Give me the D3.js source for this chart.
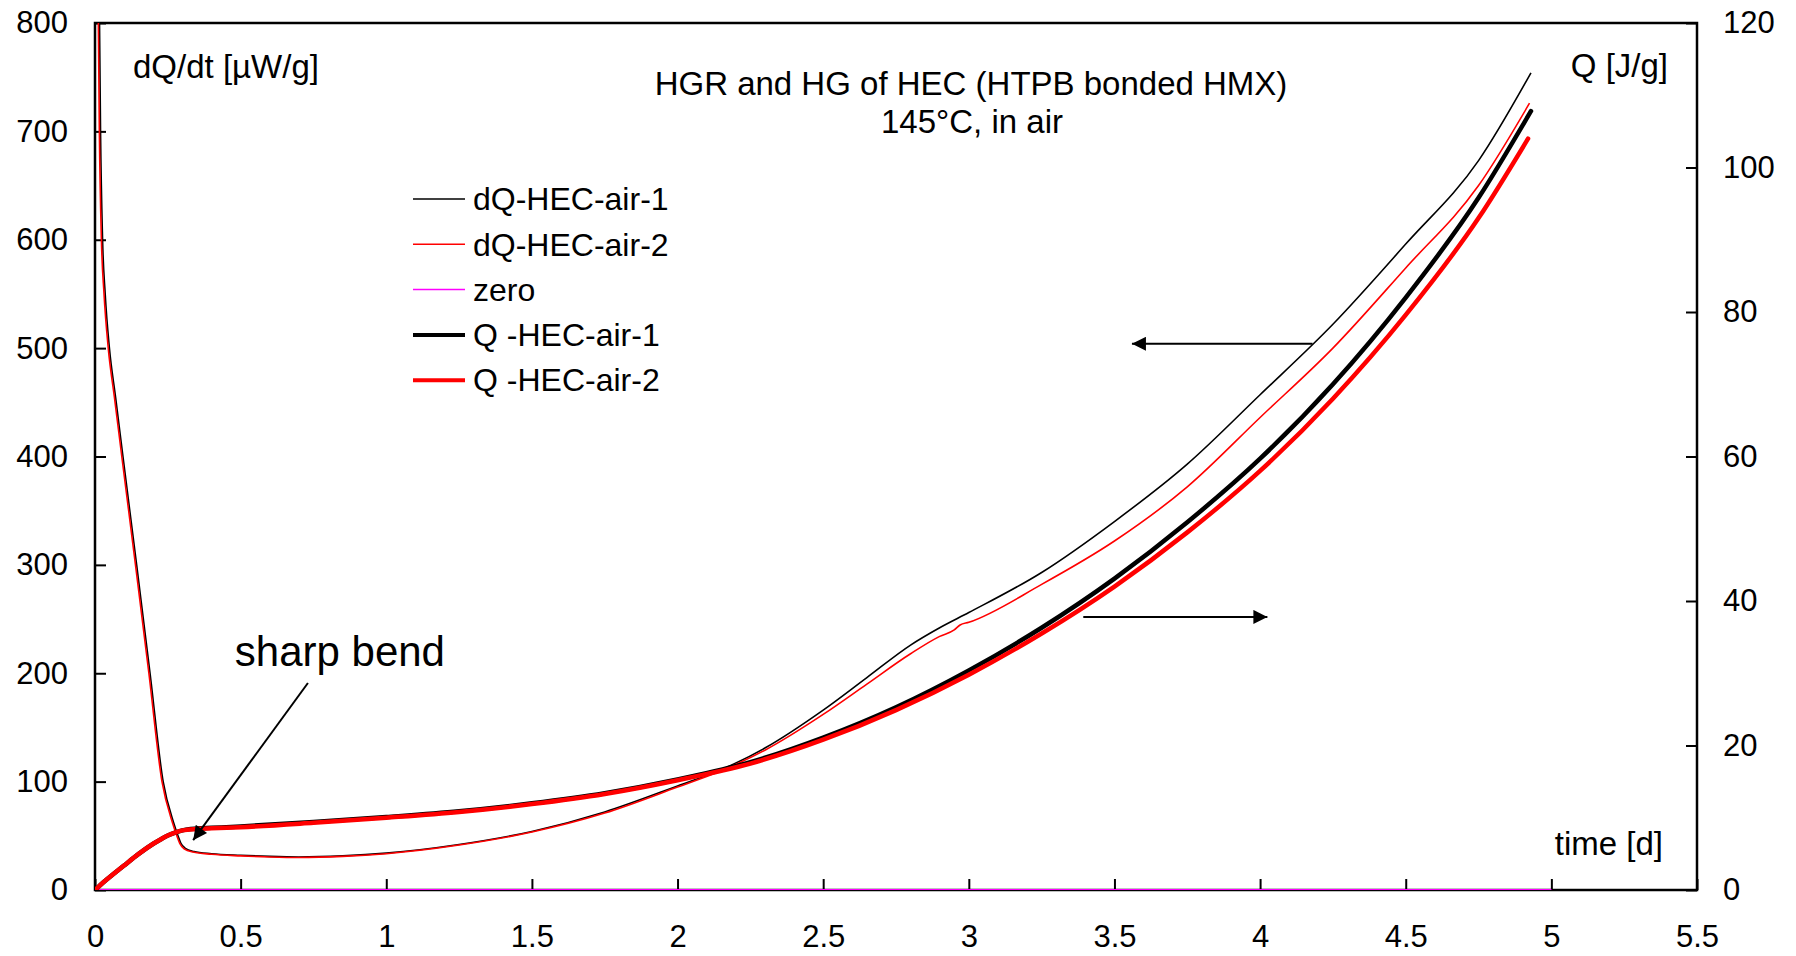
<!DOCTYPE html>
<html>
<head>
<meta charset="utf-8">
<script src="https://cdn.jsdelivr.net/npm/d3@7"></script>
<style>
  body { margin: 0; background: #fff; }
  text { font-family: "Liberation Sans", Arial, sans-serif; fill: #000; }
</style>
</head>
<body>
<div id="chart"></div>
<script>
// time [d] and dQ/dt [µW/g], run 1
const tDQ1 = [0.014, 0.0155, 0.019, 0.026, 0.035, 0.0495, 0.0705, 0.096, 0.143, 0.189, 0.234, 0.27, 0.285, 0.295, 0.31, 0.34, 0.4, 0.5, 0.6, 0.7, 0.85, 1.0, 1.25, 1.5, 1.75, 2.0, 2.15, 2.3, 2.5, 2.65, 2.8, 2.9, 3.0, 3.25, 3.5, 3.75, 4.0, 4.25, 4.5, 4.75, 4.93];
const dQ1 = [850, 800, 700, 600, 550, 500, 455, 400, 300, 200, 100, 62, 50, 43, 38.5, 35.5, 33.5, 32, 31, 30.5, 31.5, 34, 42, 54, 72, 96, 111, 131, 166, 196, 226, 242, 256, 293, 340, 393, 457, 522, 596, 673, 754];
// run 2
const tDQ2 = [0.010, 0.0115, 0.015, 0.022, 0.031, 0.0455, 0.0665, 0.092, 0.139, 0.185, 0.23, 0.266, 0.281, 0.291, 0.306, 0.336, 0.4, 0.5, 0.6, 0.7, 0.85, 1.0, 1.25, 1.5, 1.75, 2.0, 2.15, 2.3, 2.5, 2.65, 2.8, 2.9, 2.95, 2.97, 3.0, 3.25, 3.5, 3.75, 4.0, 4.25, 4.5, 4.75, 4.925];
const dQ2 = [850, 800, 700, 600, 550, 500, 455, 400, 300, 200, 100, 62, 50, 43, 38, 35, 33, 31.5, 30.5, 30, 31, 33.5, 41.5, 53.5, 71, 95, 110, 129, 162, 190, 218, 234, 240, 244.5, 247, 282, 322, 372, 436, 500, 574, 650, 726];
// heat generated Q [J/g]
const tQ1 = [0, 0.03, 0.06, 0.1, 0.15, 0.2, 0.225, 0.25, 0.275, 0.3, 0.35, 0.4, 0.5, 0.75, 1.0, 1.25, 1.5, 1.75, 2.0, 2.25, 2.5, 2.75, 3.0, 3.25, 3.5, 3.75, 4.0, 4.25, 4.5, 4.75, 4.93];
const Q1 = [0, 1.1, 2.1, 3.4, 5.0, 6.4, 7.0, 7.55, 7.95, 8.25, 8.5, 8.6, 8.8, 9.4, 10.1, 10.9, 12.0, 13.4, 15.3, 17.7, 21.1, 25.3, 30.4, 36.3, 43.1, 50.9, 59.7, 70.0, 82.0, 95.8, 107.8];
const tQ2 = [0, 0.03, 0.06, 0.1, 0.15, 0.2, 0.225, 0.25, 0.275, 0.3, 0.35, 0.4, 0.5, 0.75, 1.0, 1.25, 1.5, 1.75, 2.0, 2.25, 2.5, 2.75, 3.0, 3.25, 3.5, 3.75, 4.0, 4.25, 4.5, 4.75, 4.92];
const Q2 = [0, 1.1, 2.1, 3.4, 5.0, 6.4, 7.0, 7.55, 7.95, 8.25, 8.45, 8.55, 8.7, 9.3, 10.0, 10.8, 11.9, 13.3, 15.2, 17.5, 20.8, 24.9, 29.8, 35.5, 42.0, 49.5, 58.0, 68.0, 79.6, 93.0, 104.0];
const tZero = [0, 5];
const zero = [0, 0];

const xTicks = [0, 0.5, 1, 1.5, 2, 2.5, 3, 3.5, 4, 4.5, 5, 5.5];
const yLeftTicks = [0, 100, 200, 300, 400, 500, 600, 700, 800];
const yRightTicks = [0, 20, 40, 60, 80, 100, 120];

const legendItems = [
  { name: "dQ-HEC-air-1", color: "#000", width: 1.5 },
  { name: "dQ-HEC-air-2", color: "#ff0000", width: 1.5 },
  { name: "zero", color: "#ff00ff", width: 1.5 },
  { name: "Q -HEC-air-1", color: "#000", width: 4 },
  { name: "Q -HEC-air-2", color: "#ff0000", width: 4 }
];

const width = 1796, height = 956;
const margin = { top: 23, right: 99, bottom: 66, left: 95 };

const svg = d3.select("#chart").append("svg")
  .attr("width", width)
  .attr("height", height)
  .style("background", "#fff");

const x = d3.scaleLinear().domain([0, 5.5]).range([margin.left, width - margin.right]);
const yL = d3.scaleLinear().domain([0, 800]).range([height - margin.bottom, margin.top]);
const yR = d3.scaleLinear().domain([0, 120]).range([height - margin.bottom, margin.top]);

svg.append("defs").append("clipPath").attr("id", "plot")
  .append("rect")
  .attr("x", x(0)).attr("y", yL(800))
  .attr("width", x(5.5) - x(0)).attr("height", yL(0) - yL(800));

const marker = svg.select("defs").append("marker")
  .attr("id", "head")
  .attr("viewBox", "0 0 10 10")
  .attr("refX", 10).attr("refY", 5)
  .attr("markerUnits", "userSpaceOnUse")
  .attr("markerWidth", 17).attr("markerHeight", 14)
  .attr("orient", "auto");
marker.append("path").attr("d", "M0,0L10,5L0,10Z").attr("fill", "#000");

// axes (ticks inside)
const fs = 31;
svg.append("g")
  .attr("transform", `translate(${x(0)},0)`)
  .call(d3.axisLeft(yL).tickValues(yLeftTicks).tickSizeInner(-11).tickSizeOuter(0).tickPadding(27))
  .call(g => g.select(".domain").remove());
svg.append("g")
  .attr("transform", `translate(${x(5.5)},0)`)
  .call(d3.axisRight(yR).tickValues(yRightTicks).tickSizeInner(-11).tickSizeOuter(0).tickPadding(26))
  .call(g => g.select(".domain").remove());
svg.append("g")
  .attr("transform", `translate(0,${yL(0)})`)
  .call(d3.axisBottom(x).tickValues(xTicks).tickFormat(d3.format("")).tickSizeInner(-11).tickSizeOuter(0).tickPadding(35))
  .call(g => g.select(".domain").remove());

svg.selectAll(".tick line").attr("stroke", "#000").attr("stroke-width", 2);
svg.selectAll(".tick text").attr("font-size", fs).attr("font-family", "Liberation Sans, Arial, sans-serif").attr("fill", "#000");

// frame
svg.append("rect")
  .attr("x", x(0)).attr("y", yL(800))
  .attr("width", x(5.5) - x(0)).attr("height", yL(0) - yL(800))
  .attr("fill", "none").attr("stroke", "#000").attr("stroke-width", 2.5);

// series
const lineL = d3.line().x(d => x(d[0])).y(d => yL(d[1])).curve(d3.curveMonotoneX);
const lineR = d3.line().x(d => x(d[0])).y(d => yR(d[1])).curve(d3.curveMonotoneX);
const zip = (a, b) => a.map((v, i) => [v, b[i]]);

const plot = svg.append("g").attr("clip-path", "url(#plot)");
plot.append("path").datum(zip(tDQ1, dQ1)).attr("d", lineL)
  .attr("fill", "none").attr("stroke", "#000").attr("stroke-width", 1.6);
plot.append("path").datum(zip(tDQ2, dQ2)).attr("d", lineL)
  .attr("fill", "none").attr("stroke", "#ff0000").attr("stroke-width", 1.6);
plot.append("path").datum(zip(tZero, zero)).attr("d", lineL)
  .attr("fill", "none").attr("stroke", "#ff00ff").attr("stroke-width", 2);
plot.append("path").datum(zip(tQ1, Q1)).attr("d", lineR)
  .attr("fill", "none").attr("stroke", "#000").attr("stroke-width", 4.5).attr("stroke-linecap", "round");
plot.append("path").datum(zip(tQ2, Q2)).attr("d", lineR)
  .attr("fill", "none").attr("stroke", "#ff0000").attr("stroke-width", 4.5).attr("stroke-linecap", "round");

// labels
svg.append("text").attr("x", 133).attr("y", 78).attr("font-size", 33).text("dQ/dt [µW/g]");
svg.append("text").attr("x", 1668).attr("y", 77).attr("font-size", 33).attr("text-anchor", "end").text("Q [J/g]");
svg.append("text").attr("x", 1663).attr("y", 855).attr("font-size", 33).attr("text-anchor", "end").text("time [d]");

svg.append("text").attr("x", 971).attr("y", 95).attr("font-size", 33).attr("text-anchor", "middle")
  .text("HGR and HG of HEC (HTPB bonded HMX)");
svg.append("text").attr("x", 972).attr("y", 133).attr("font-size", 33).attr("text-anchor", "middle")
  .text("145°C, in air");

// legend
const legend = svg.append("g");
legendItems.forEach((d, i) => {
  const cy = 199 + i * 45.3;
  legend.append("line").attr("x1", 413).attr("x2", 465).attr("y1", cy).attr("y2", cy)
    .attr("stroke", d.color).attr("stroke-width", d.width);
  legend.append("text").attr("x", 473).attr("y", cy).attr("dy", "0.35em")
    .attr("font-size", 32).text(d.name);
});

// annotations (data coordinates)
svg.append("text").attr("x", x(0.48)).attr("y", yL(207)).attr("font-size", 42).text("sharp bend");
svg.append("line")
  .attr("x1", x(0.731)).attr("y1", yL(191)).attr("x2", x(0.337)).attr("y2", yL(46))
  .attr("stroke", "#000").attr("stroke-width", 2).attr("marker-end", "url(#head)");
svg.append("line")
  .attr("x1", x(4.18)).attr("y1", yL(504)).attr("x2", x(3.56)).attr("y2", yL(504))
  .attr("stroke", "#000").attr("stroke-width", 2).attr("marker-end", "url(#head)");
svg.append("line")
  .attr("x1", x(3.393)).attr("y1", yR(37.8)).attr("x2", x(4.025)).attr("y2", yR(37.8))
  .attr("stroke", "#000").attr("stroke-width", 2).attr("marker-end", "url(#head)");
</script>
</body>
</html>
